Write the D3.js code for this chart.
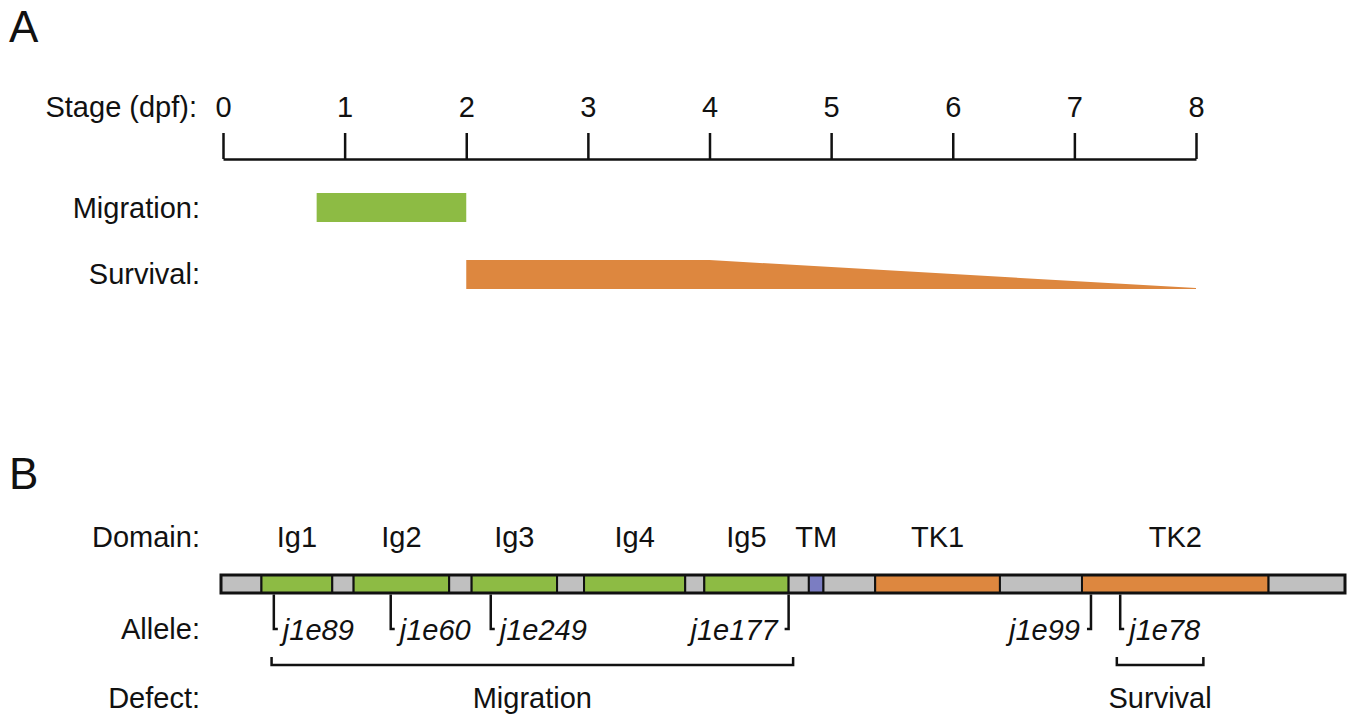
<!DOCTYPE html>
<html>
<head>
<meta charset="utf-8">
<script src="https://cdn.jsdelivr.net/npm/d3@7.9.0/dist/d3.min.js"></script>
<style>
  html, body { margin: 0; padding: 0; background: #fff; }
  svg text { font-family: "Liberation Sans", Arial, Helvetica, sans-serif; fill: #111; }
</style>
</head>
<body>
<div id="viz"></div>
<script>
// Panel A: developmental timeline (days post fertilization)
const stageTicks = [0, 1, 2, 3, 4, 5, 6, 7, 8];
const migrationWindow = [0.77, 2];
// survival requirement: relative strength at each day
const survivalDays = [2, 4, 8];
const survivalLevel = [1, 1, 0];

// Panel B: protein domain map (positions on a 0-1000 scale along the protein)
const segStart = [0, 36, 99, 118, 203, 223, 299, 323, 413, 430, 505, 523, 536, 582, 693, 766, 932];
const segEnd   = [36, 99, 118, 203, 223, 299, 323, 413, 430, 505, 523, 536, 582, 693, 766, 932, 1000];
const segType  = ['linker', 'ig', 'linker', 'ig', 'linker', 'ig', 'linker', 'ig', 'linker', 'ig',
                  'linker', 'tm', 'linker', 'tk', 'linker', 'tk', 'linker'];
const domainNames = ['Ig1', 'Ig2', 'Ig3', 'Ig4', 'Ig5', 'TM', 'TK1', 'TK2'];
const domainCenters = [67.5, 160.5, 261, 368, 467.5, 529.5, 637.5, 849];

const alleleNames = ['j1e89', 'j1e60', 'j1e249', 'j1e177', 'j1e99', 'j1e78'];
const allelePos = [47, 151, 240, 505, 774, 800];
const alleleSide = ['right', 'right', 'right', 'left', 'left', 'right'];

const defectNames = ['Migration', 'Survival'];
const defectStart = [45, 797];
const defectEnd = [509, 874];

const colors = { linker: '#c0c0c0', ig: '#8dbb44', tm: '#7b7dc2', tk: '#dd873f' };

const svg = d3.select('#viz').append('svg')
    .attr('width', 1356)
    .attr('height', 715);

const fs = 29;
const lw = 2.5;

// panel letters
svg.append('text').attr('x', 9).attr('y', 42).style('font-size', '44px').text('A');
svg.append('text').attr('x', 9).attr('y', 489).style('font-size', '44px').text('B');

// ---------- Panel A ----------
const x = d3.scaleLinear().domain([0, 8]).range([223, 1196]);

const axisG = svg.append('g')
    .attr('transform', 'translate(0,159)')
    .call(d3.axisTop(x).tickValues(stageTicks).tickSizeInner(26).tickSizeOuter(0).tickPadding(16));
axisG.select('.domain').attr('stroke', '#111').attr('stroke-width', lw);
axisG.selectAll('.tick line').attr('stroke', '#111').attr('stroke-width', lw);
axisG.selectAll('.tick text')
    .style('font-size', fs + 'px')
    .style('font-family', '"Liberation Sans", Arial, sans-serif')
    .attr('fill', '#111');

function rowLabel(text, y, right) {
  svg.append('text')
    .attr('x', right)
    .attr('y', y)
    .attr('text-anchor', 'end')
    .style('font-size', fs + 'px')
    .text(text);
}

rowLabel('Stage (dpf):', 117, 197);
rowLabel('Migration:', 218, 200);
rowLabel('Survival:', 284, 200);

// migration bar
svg.append('rect')
    .attr('x', x(migrationWindow[0]))
    .attr('y', 193)
    .attr('width', x(migrationWindow[1]) - x(migrationWindow[0]))
    .attr('height', 29)
    .attr('fill', colors.ig);

// survival wedge
const hLevel = d3.scaleLinear().domain([0, 1]).range([289, 260]);
const survivalData = survivalDays.map((d, i) => ({ day: d, level: survivalLevel[i] }));
svg.append('path')
    .datum(survivalData)
    .attr('fill', colors.tk)
    .attr('d', d3.area()
      .x(d => x(d.day))
      .y0(289)
      .y1(d => Math.min(hLevel(d.level), 288)));

// ---------- Panel B ----------
const p = d3.scaleLinear().domain([0, 1000]).range([221, 1345]);
const barTop = 575, barH = 18;

rowLabel('Domain:', 547, 200);
rowLabel('Allele:', 639, 200);
rowLabel('Defect:', 708, 200);

svg.selectAll('.domainLabel')
  .data(domainNames)
  .join('text')
    .attr('class', 'domainLabel')
    .attr('x', (d, i) => p(domainCenters[i]))
    .attr('y', 547)
    .attr('text-anchor', 'middle')
    .style('font-size', fs + 'px')
    .text(d => d);

const segs = segStart.map((s, i) => ({ s: s, e: segEnd[i], type: segType[i] }));
svg.selectAll('.seg')
  .data(segs)
  .join('rect')
    .attr('class', 'seg')
    .attr('x', d => p(d.s))
    .attr('y', barTop)
    .attr('width', d => p(d.e) - p(d.s))
    .attr('height', barH)
    .attr('fill', d => colors[d.type])
    .attr('stroke', '#111')
    .attr('stroke-width', 2);

// thicker outline around the whole protein
svg.append('rect')
    .attr('x', p(0))
    .attr('y', barTop)
    .attr('width', p(1000) - p(0))
    .attr('height', barH)
    .attr('fill', 'none')
    .attr('stroke', '#111')
    .attr('stroke-width', 3);

// allele hooks
const alleles = alleleNames.map((n, i) => ({ name: n, pos: allelePos[i], side: alleleSide[i] }));
const hookBottom = 629;
const ag = svg.selectAll('.allele')
  .data(alleles)
  .join('g')
    .attr('class', 'allele');

ag.append('path')
    .attr('fill', 'none')
    .attr('stroke', '#111')
    .attr('stroke-width', lw)
    .attr('d', d => {
      const xx = p(d.pos);
      const dir = d.side === 'right' ? 1 : -1;
      return `M${xx},${barTop + barH + 1.5}V${hookBottom}h${4 * dir}`;
    });

ag.append('text')
    .attr('x', d => p(d.pos) + (d.side === 'right' ? 9 : -11))
    .attr('y', 640)
    .attr('text-anchor', d => d.side === 'right' ? 'start' : 'end')
    .style('font-size', fs + 'px')
    .style('font-style', 'italic')
    .text(d => d.name);

// defect brackets
const defects = defectNames.map((n, i) => ({ name: n, s: defectStart[i], e: defectEnd[i] }));
const dg = svg.selectAll('.defect')
  .data(defects)
  .join('g')
    .attr('class', 'defect');

dg.append('path')
    .attr('fill', 'none')
    .attr('stroke', '#111')
    .attr('stroke-width', lw)
    .attr('d', d => `M${p(d.s)},657V665H${p(d.e)}V657`);

dg.append('text')
    .attr('x', d => (p(d.s) + p(d.e)) / 2)
    .attr('y', 708)
    .attr('text-anchor', 'middle')
    .style('font-size', fs + 'px')
    .text(d => d.name);
</script>
</body>
</html>
